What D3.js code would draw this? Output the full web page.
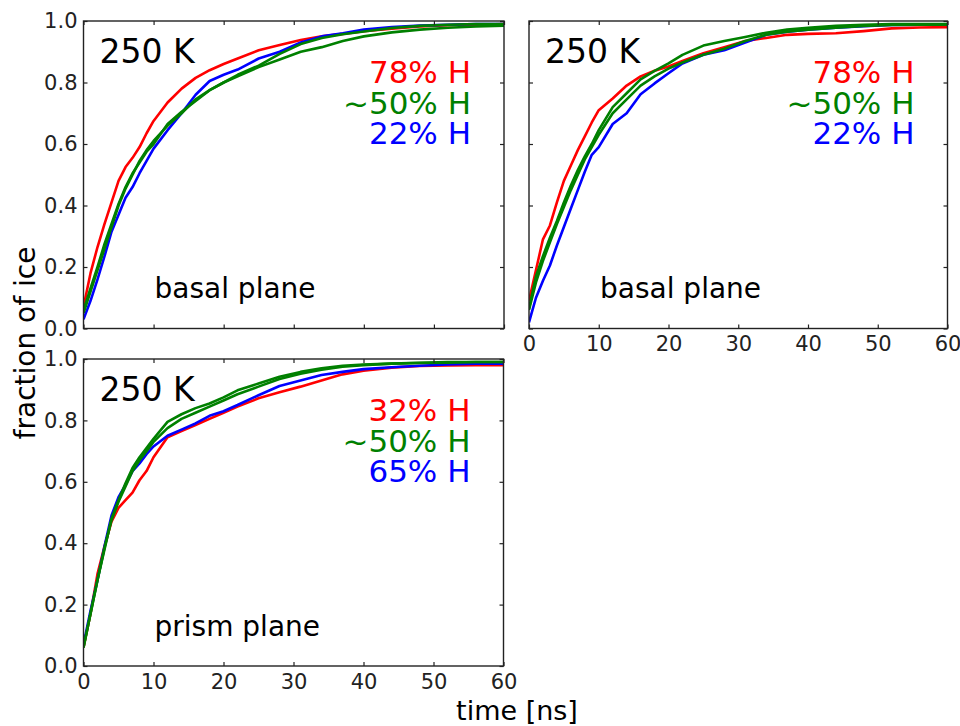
<!DOCTYPE html>
<html>
<head>
<meta charset="utf-8">
<script src="https://cdn.jsdelivr.net/npm/d3@7"></script>
<style>
  body { margin: 0; background: #fff; }
  svg { font-family: "DejaVu Sans", sans-serif; }
</style>
</head>
<body>
<svg id="chart" width="960" height="726"></svg>
<script>
// time grid [ns] shared by all curves
const timeNs = [0, 1, 2, 3, 4, 5, 6, 7, 8, 9, 10, 12, 14, 16, 18, 20, 22, 25, 28, 31, 34, 37, 40, 44, 48, 52, 56, 60];

// basal plane, run 1 (top left)
const basal1Red78 = [0.07, 0.18, 0.265, 0.34, 0.41, 0.48, 0.525, 0.555, 0.59, 0.635, 0.675, 0.735, 0.78, 0.815, 0.84, 0.86, 0.878, 0.905, 0.922, 0.938, 0.95, 0.958, 0.967, 0.975, 0.982, 0.986, 0.988, 0.99];
const basal1Blue22 = [0.03, 0.09, 0.16, 0.235, 0.315, 0.37, 0.425, 0.46, 0.505, 0.545, 0.585, 0.645, 0.7, 0.76, 0.805, 0.825, 0.842, 0.878, 0.9, 0.93, 0.95, 0.96, 0.972, 0.98, 0.985, 0.988, 0.99, 0.99];
const basal1Green50a = [0.05, 0.12, 0.19, 0.26, 0.33, 0.4, 0.455, 0.5, 0.545, 0.58, 0.61, 0.66, 0.7, 0.745, 0.775, 0.8, 0.825, 0.855, 0.893, 0.925, 0.945, 0.957, 0.966, 0.977, 0.984, 0.988, 0.99, 0.99];
const basal1Green50b = [0.06, 0.13, 0.2, 0.275, 0.34, 0.405, 0.46, 0.505, 0.54, 0.575, 0.6, 0.665, 0.705, 0.74, 0.775, 0.8, 0.82, 0.85, 0.875, 0.9, 0.915, 0.935, 0.95, 0.963, 0.972, 0.978, 0.982, 0.985];

// basal plane, run 2 (top right)
const basal2Red78 = [0.09, 0.19, 0.29, 0.335, 0.41, 0.48, 0.53, 0.58, 0.625, 0.67, 0.71, 0.748, 0.79, 0.82, 0.838, 0.852, 0.87, 0.895, 0.915, 0.935, 0.945, 0.955, 0.958, 0.96, 0.967, 0.976, 0.979, 0.98];
const basal2Blue22 = [0.02, 0.1, 0.155, 0.205, 0.27, 0.33, 0.39, 0.45, 0.51, 0.565, 0.59, 0.665, 0.7, 0.762, 0.797, 0.83, 0.862, 0.89, 0.905, 0.93, 0.955, 0.965, 0.972, 0.978, 0.983, 0.987, 0.988, 0.988];
const basal2Green50a = [0.065, 0.17, 0.235, 0.295, 0.35, 0.41, 0.465, 0.515, 0.56, 0.6, 0.645, 0.72, 0.765, 0.81, 0.838, 0.862, 0.89, 0.92, 0.935, 0.948, 0.962, 0.972, 0.978, 0.984, 0.988, 0.99, 0.99, 0.99];
const basal2Green50b = [0.06, 0.15, 0.22, 0.28, 0.34, 0.395, 0.45, 0.5, 0.55, 0.59, 0.63, 0.7, 0.745, 0.79, 0.82, 0.845, 0.865, 0.89, 0.91, 0.935, 0.955, 0.965, 0.972, 0.978, 0.984, 0.987, 0.988, 0.988];

// prism plane (bottom left)
const prismRed32 = [0.06, 0.17, 0.3, 0.39, 0.47, 0.515, 0.54, 0.565, 0.605, 0.635, 0.68, 0.745, 0.765, 0.785, 0.805, 0.825, 0.845, 0.872, 0.892, 0.91, 0.93, 0.95, 0.962, 0.972, 0.977, 0.979, 0.98, 0.98];
const prismBlue65 = [0.07, 0.18, 0.28, 0.39, 0.49, 0.55, 0.59, 0.635, 0.66, 0.69, 0.715, 0.75, 0.77, 0.79, 0.815, 0.83, 0.85, 0.882, 0.912, 0.93, 0.948, 0.958, 0.967, 0.973, 0.978, 0.982, 0.985, 0.985];
const prismGreen50a = [0.06, 0.17, 0.28, 0.38, 0.48, 0.54, 0.595, 0.645, 0.68, 0.71, 0.74, 0.795, 0.82, 0.84, 0.855, 0.875, 0.898, 0.92, 0.942, 0.958, 0.97, 0.978, 0.982, 0.985, 0.988, 0.99, 0.99, 0.99];
const prismGreen50b = [0.06, 0.17, 0.28, 0.385, 0.475, 0.535, 0.585, 0.635, 0.67, 0.7, 0.73, 0.775, 0.805, 0.825, 0.845, 0.865, 0.885, 0.91, 0.935, 0.952, 0.965, 0.975, 0.98, 0.985, 0.987, 0.988, 0.99, 0.99];

const xTicks = [0, 10, 20, 30, 40, 50, 60];
const yTicks = [0, 0.2, 0.4, 0.6, 0.8, 1.0];
const basalLegend = ["78% H", "~50% H", "22% H"];
const prismLegend = ["32% H", "~50% H", "65% H"];
const legendColors = ["#ff0000", "#008000", "#0000ff"];

const svg = d3.select("#chart");

const panels = [
  { left: 83.5, top: 21, w: 420.5, h: 307.5, showX: false, showY: true,
    series: [[basal1Red78, "#ff0000"], [basal1Blue22, "#0000ff"], [basal1Green50b, "#008000"], [basal1Green50a, "#008000"]],
    legend: basalLegend, plane: "basal plane" },
  { left: 529, top: 21, w: 418.5, h: 307.5, showX: true, showY: false,
    series: [[basal2Red78, "#ff0000"], [basal2Blue22, "#0000ff"], [basal2Green50b, "#008000"], [basal2Green50a, "#008000"]],
    legend: basalLegend, plane: "basal plane" },
  { left: 83.5, top: 359, w: 420, h: 307, showX: true, showY: true,
    series: [[prismRed32, "#ff0000"], [prismBlue65, "#0000ff"], [prismGreen50b, "#008000"], [prismGreen50a, "#008000"]],
    legend: prismLegend, plane: "prism plane" }
];

panels.forEach(function (p, i) {
  const g = svg.append("g").attr("transform", "translate(" + p.left + "," + p.top + ")");
  const x = d3.scaleLinear().domain([0, 60]).range([0, p.w]);
  const y = d3.scaleLinear().domain([0, 1]).range([p.h, 0]);

  g.append("clipPath").attr("id", "clip" + i)
    .append("rect").attr("width", p.w).attr("height", p.h);

  const line = d3.line()
    .x(function (d, k) { return x(timeNs[k]); })
    .y(function (d) { return y(d); });

  const lines = g.append("g").attr("clip-path", "url(#clip" + i + ")");
  p.series.forEach(function (s) {
    lines.append("path")
      .attr("d", line(s[0]))
      .attr("fill", "none")
      .attr("stroke", s[1])
      .attr("stroke-width", 2.6)
      .attr("stroke-linejoin", "round");
  });

  // axes, ticks pointing inward on all sides
  const left = g.append("g").call(d3.axisLeft(y).tickValues(yTicks).tickSize(-4).tickPadding(6)
    .tickFormat(p.showY ? d3.format(".1f") : ""));
  const right = g.append("g").attr("transform", "translate(" + p.w + ",0)")
    .call(d3.axisRight(y).tickValues(yTicks).tickSize(-4).tickFormat(""));
  const top = g.append("g").call(d3.axisTop(x).tickValues(xTicks).tickSize(-4).tickFormat(""));
  const bottom = g.append("g").attr("transform", "translate(0," + p.h + ")")
    .call(d3.axisBottom(x).tickValues(xTicks).tickSize(-4).tickPadding(8)
      .tickFormat(p.showX ? d3.format("d") : ""));

  [left, right, top, bottom].forEach(function (a) {
    a.select(".domain").remove();
    a.selectAll(".tick line").attr("stroke", "#222").attr("stroke-width", 1.2);
    a.selectAll(".tick text").attr("fill", "#222").style("font-size", "21px")
      .style("font-family", "DejaVu Sans, sans-serif");
  });

  g.append("rect").attr("width", p.w).attr("height", p.h)
    .attr("fill", "none").attr("stroke", "#222").attr("stroke-width", 1.4);

  g.append("text").attr("x", 16).attr("y", 42)
    .style("font-size", "33px").attr("fill", "#000").text("250 K");

  p.legend.forEach(function (t, k) {
    g.append("text")
      .attr("x", p.w - 33).attr("y", 62 + k * 30.5)
      .attr("text-anchor", "end")
      .style("font-size", "31px")
      .attr("fill", legendColors[k])
      .text(t);
  });

  g.append("text").attr("x", 71).attr("y", 277)
    .style("font-size", "28px").attr("fill", "#000").text(p.plane);
});

svg.append("text")
  .attr("transform", "translate(35,343) rotate(-90)")
  .attr("text-anchor", "middle")
  .style("font-size", "28px")
  .text("fraction of ice");

svg.append("text")
  .attr("x", 517).attr("y", 720)
  .attr("text-anchor", "middle")
  .style("font-size", "27px")
  .text("time [ns]");
</script>
</body>
</html>
